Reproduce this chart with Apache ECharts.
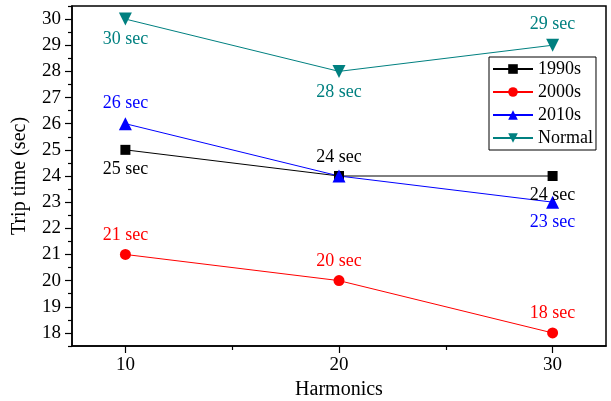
<!DOCTYPE html>
<html>
<head>
<meta charset="utf-8">
<script src="https://cdn.jsdelivr.net/npm/echarts@6/dist/echarts.min.js"></script>
<style>
  html, body { margin: 0; padding: 0; background: #fff; }
  #myChart { width: 611px; height: 401px; }
</style>
</head>
<body>
<div id="myChart"></div>
<script>
// values
const harmonics = [10, 20, 30];
const t1990s = [25, 24, 24];
const t2000s = [21, 20, 18];
const t2010s = [26, 24, 23];
const tNormal = [30, 28, 29];
const xTicks = [10, 20, 30];
const xMinor = [15, 25];
const yTicks = [18, 19, 20, 21, 22, 23, 24, 25, 26, 27, 28, 29, 30];
const yMinor = [17.5, 18.5, 19.5, 20.5, 21.5, 22.5, 23.5, 24.5, 25.5, 26.5, 27.5, 28.5, 29.5, 30.5];

const FONT = 'Liberation Serif';

// where each point label sits (style only)
const labelPos = {
  '1990s': ['bottom', 'top', 'bottom'],
  '2000s': ['top', 'top', 'top'],
  '2010s': ['top', null, 'bottom'],
  'Normal': ['bottom', 'bottom', 'top']
};

function pts(ys, name) {
  return ys.map(function (y, i) {
    const p = labelPos[name][i];
    return {
      value: [harmonics[i], y],
      label: p ? { show: true, position: p } : { show: false }
    };
  });
}

function makeSeries(name, ys, color, symbol, size) {
  return {
    name: name,
    type: 'line',
    data: pts(ys, name),
    symbol: symbol,
    symbolSize: size,
    itemStyle: { color: color },
    lineStyle: { color: color, width: 1 },
    label: {
      color: color,
      fontFamily: FONT,
      fontSize: 18,
      distance: 5,
      formatter: function (p) { return p.value[1] + ' sec'; }
    },
    emphasis: { disabled: true },
    animation: false
  };
}

let myChart = echarts.init(document.getElementById('myChart'));
myChart.setOption({
  backgroundColor: '#fff',
  textStyle: { fontFamily: FONT },
  grid: {
    left: 72, right: 5, top: 6, bottom: 55,
    containLabel: false, outerBoundsMode: 'none',
    show: true, borderColor: '#000', borderWidth: 1.5
  },
  legend: {
    orient: 'vertical',
    left: 489, top: 57,
    itemWidth: 40, itemHeight: 12, itemGap: 5,
    padding: [3, 3, 3, 3],
    backgroundColor: '#fff',
    borderColor: '#000', borderWidth: 1, borderRadius: 0,
    textStyle: { fontFamily: FONT, fontSize: 18, color: '#000' },
    data: ['1990s', '2000s', '2010s', 'Normal']
  },
  xAxis: [
    {
      type: 'value', min: 7.5, max: 32.5,
      name: 'Harmonics', nameLocation: 'middle', nameGap: 24,
      nameTextStyle: { fontFamily: FONT, fontSize: 20, color: '#000' },
      axisLine: { show: true, onZero: false, lineStyle: { color: '#000', width: 1.5 } },
      axisTick: { show: true, customValues: xTicks, length: 7, lineStyle: { color: '#000', width: 1.2 } },
      axisLabel: { customValues: xTicks, fontFamily: FONT, fontSize: 19, color: '#000', margin: 10 },
      splitLine: { show: false }
    },
    {
      type: 'value', min: 7.5, max: 32.5, position: 'bottom',
      axisLine: { show: false, onZero: false },
      axisTick: { show: true, customValues: xMinor, length: 4, lineStyle: { color: '#000', width: 1.2 } },
      axisLabel: { show: false },
      splitLine: { show: false }
    }
  ],
  yAxis: [
    {
      type: 'value', min: 17.5, max: 30.5,
      name: 'Trip time (sec)', nameLocation: 'middle', nameGap: 42,
      nameTextStyle: { fontFamily: FONT, fontSize: 20, color: '#000' },
      axisLine: { show: true, onZero: false, lineStyle: { color: '#000', width: 1.5 } },
      axisTick: { show: true, customValues: yTicks, length: 7, lineStyle: { color: '#000', width: 1.2 } },
      axisLabel: { customValues: yTicks, fontFamily: FONT, fontSize: 19, color: '#000', margin: 11 },
      splitLine: { show: false }
    },
    {
      type: 'value', min: 17.5, max: 30.5, position: 'left',
      axisLine: { show: false, onZero: false },
      axisTick: { show: true, customValues: yMinor, length: 4, lineStyle: { color: '#000', width: 1.2 } },
      axisLabel: { show: false },
      splitLine: { show: false }
    }
  ],
  series: [
    makeSeries('1990s', t1990s, '#000000', 'rect', 10),
    makeSeries('2000s', t2000s, '#ff0000', 'circle', 11),
    makeSeries('2010s', t2010s, '#0000ff', 'triangle', 13),
    makeSeries('Normal', tNormal, '#008080', 'path://M0,0 L10,0 L5,9 Z', 13)
  ]
});
</script>
</body>
</html>
